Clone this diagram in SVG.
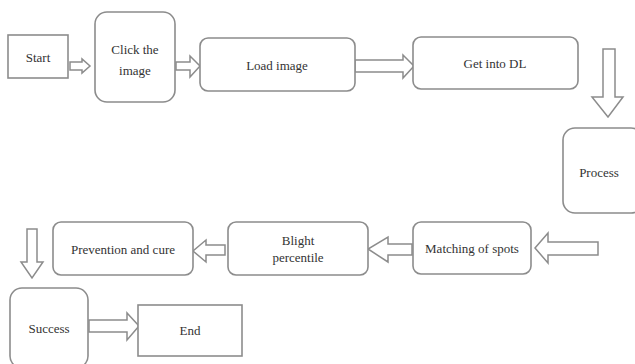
<svg xmlns="http://www.w3.org/2000/svg" width="635" height="364" viewBox="0 0 635 364">
<style>
.box{fill:#fff;stroke:#8c8c8c;stroke-width:1.6}
.arr{fill:#fff;stroke:#8c8c8c;stroke-width:1.5;stroke-linejoin:miter}
.t{font-family:'Liberation Serif','DejaVu Serif','Times New Roman',serif;font-size:13px;fill:#333;text-anchor:middle;dominant-baseline:central}
</style>
<rect width="635" height="364" fill="#fff"/>
<g id="connectors">
<polygon class="arr" points="70,62 82,62 82,59 90,66 82,73 82,70 70,70"/>
<polygon class="arr" points="176,62 190,62 190,56 200,66 190,77 190,70 176,70"/>
<polygon class="arr" points="355,60 403,60 403,55 414,66 403,78 403,72 355,72"/>
<polygon class="arr" points="603,49 615,49 615,97 623,97 608,117 592,97 603,97"/>
<polygon class="arr" points="598,242 548,242 548,233 535,248 548,263 548,255 598,255"/>
<polygon class="arr" points="412,244 388,244 388,237 368,249 388,262 388,255 412,255"/>
<polygon class="arr" points="225,245 206,245 206,240 193,251 206,262 206,255 225,255"/>
<polygon class="arr" points="27,229 37,229 37,262 43,262 32,278 21,262 27,262"/>
<polygon class="arr" points="89,320 127,320 127,313 139,326 127,340 127,332 89,332"/>
</g>
<g id="start"><rect class="box" x="8" y="35" width="60" height="43"/><text class="t" x="38" y="57" font-family="Liberation Serif, serif">Start</text></g>
<g id="click"><rect class="box" x="95" y="12" width="80" height="90" rx="12"/><text class="t" x="135" y="49">Click the</text><text class="t" x="135" y="70">image</text></g>
<g id="load"><rect class="box" x="200" y="38" width="155" height="53" rx="8"/><text class="t" x="277" y="65">Load image</text></g>
<g id="getdl"><rect class="box" x="413" y="37" width="165" height="52" rx="8"/><text class="t" x="495" y="63">Get into DL</text></g>
<g id="process"><rect class="box" x="563" y="128" width="80" height="85" rx="12"/><text class="t" x="599" y="172">Process</text></g>
<g id="matching"><rect class="box" x="413" y="222" width="118" height="52" rx="8"/><text class="t" x="472" y="248">Matching of spots</text></g>
<g id="blight"><rect class="box" x="228" y="222" width="140" height="53" rx="8"/><text class="t" x="298" y="240">Blight</text><text class="t" x="298" y="257">percentile</text></g>
<g id="prevention"><rect class="box" x="53" y="222" width="140" height="53" rx="8"/><text class="t" x="123" y="249">Prevention and cure</text></g>
<g id="success"><rect class="box" x="10" y="288" width="78" height="80" rx="12"/><text class="t" x="49" y="328">Success</text></g>
<g id="end"><rect class="box" x="138" y="305" width="104" height="51"/><text class="t" x="190" y="330">End</text></g>
</svg>
